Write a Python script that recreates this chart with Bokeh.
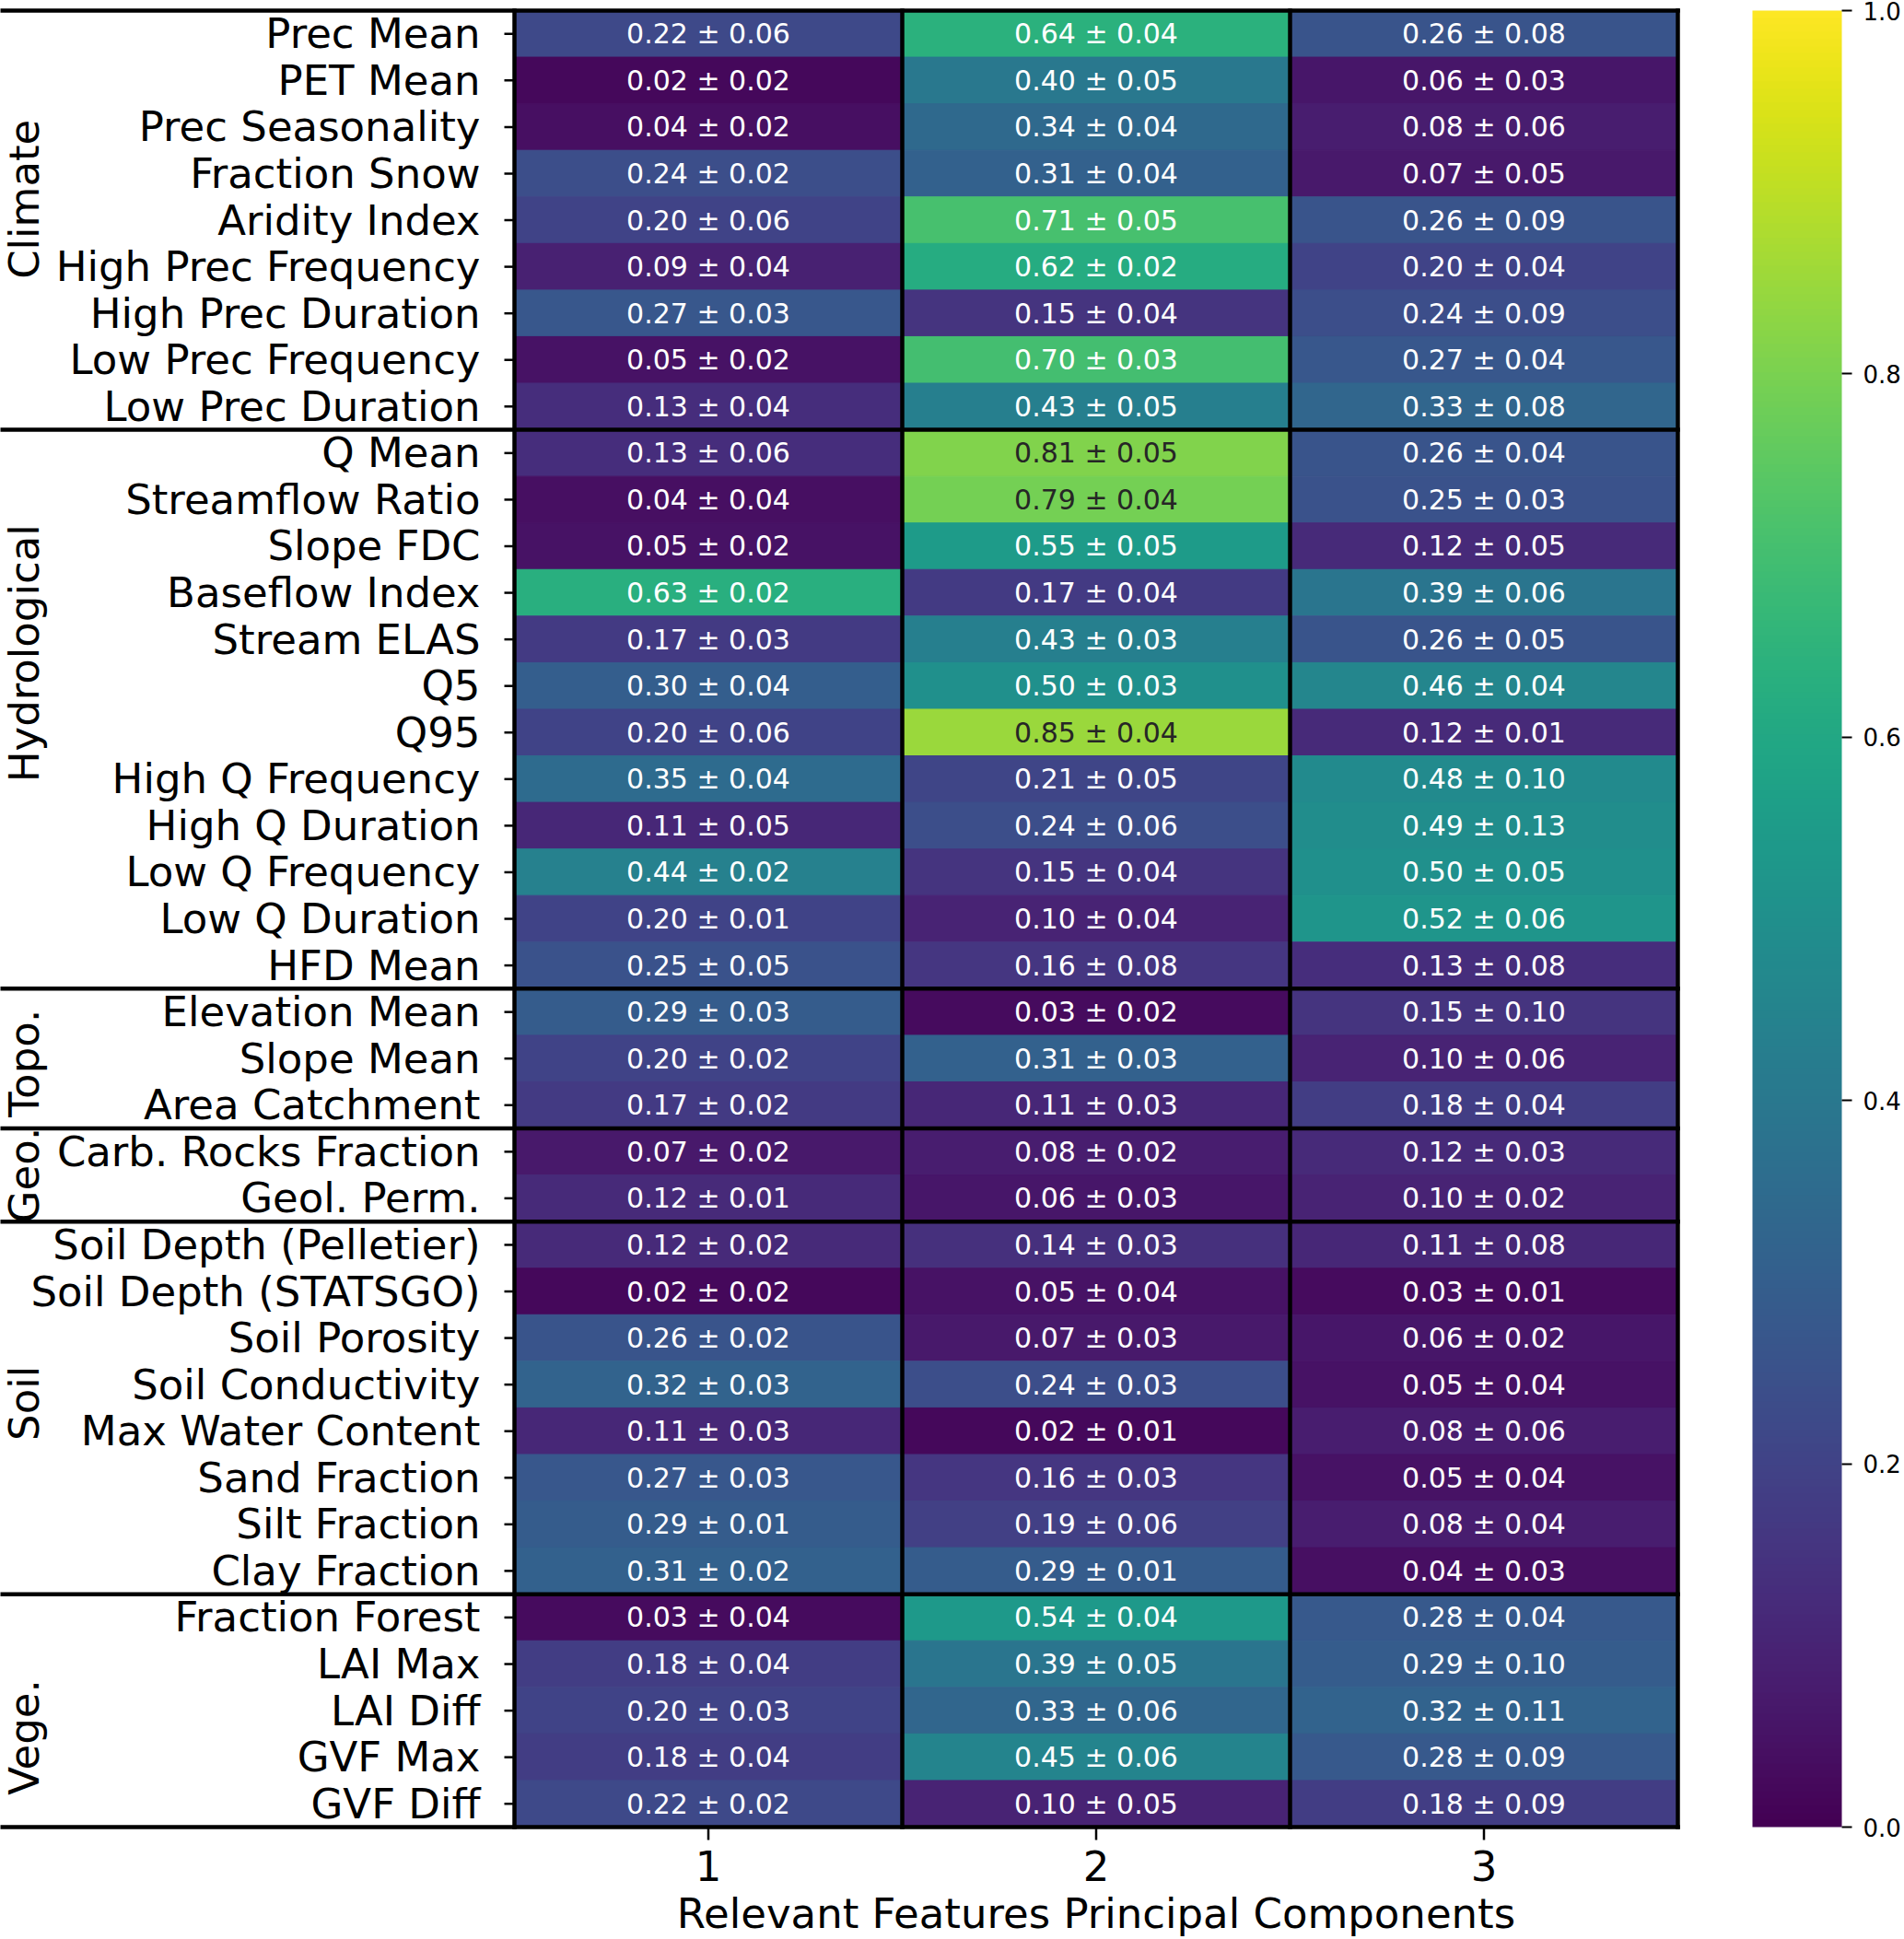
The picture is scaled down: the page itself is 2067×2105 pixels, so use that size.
import numpy as np
from bokeh.plotting import figure
from bokeh.models import (ColumnDataSource, LinearColorMapper, ColorBar, FixedTicker,
                          PrintfTickFormatter, Range1d)
from bokeh.palettes import Viridis256
from bokeh.transform import transform
from bokeh.core.properties import value
from bokeh.embed import file_html
from bokeh.resources import INLINE

# ---------------- data ----------------
groups = ["Climate", "Hydrological", "Topo.", "Geo.", "Soil", "Vege."]
group_sizes = [9, 12, 3, 2, 8, 5]

features = [
    "Prec Mean", "PET Mean", "Prec Seasonality", "Fraction Snow", "Aridity Index",
    "High Prec Frequency", "High Prec Duration", "Low Prec Frequency", "Low Prec Duration",
    "Q Mean", "Streamflow Ratio", "Slope FDC", "Baseflow Index", "Stream ELAS", "Q5", "Q95",
    "High Q Frequency", "High Q Duration", "Low Q Frequency", "Low Q Duration", "HFD Mean",
    "Elevation Mean", "Slope Mean", "Area Catchment",
    "Carb. Rocks Fraction", "Geol. Perm.",
    "Soil Depth (Pelletier)", "Soil Depth (STATSGO)", "Soil Porosity", "Soil Conductivity",
    "Max Water Content", "Sand Fraction", "Silt Fraction", "Clay Fraction",
    "Fraction Forest", "LAI Max", "LAI Diff", "GVF Max", "GVF Diff",
]

components = [1, 2, 3]

pc1_mean = [0.22, 0.02, 0.04, 0.24, 0.20, 0.09, 0.27, 0.05, 0.13,
            0.13, 0.04, 0.05, 0.63, 0.17, 0.30, 0.20, 0.35, 0.11, 0.44, 0.20, 0.25,
            0.29, 0.20, 0.17,
            0.07, 0.12,
            0.12, 0.02, 0.26, 0.32, 0.11, 0.27, 0.29, 0.31,
            0.03, 0.18, 0.20, 0.18, 0.22]
pc1_std = [0.06, 0.02, 0.02, 0.02, 0.06, 0.04, 0.03, 0.02, 0.04,
           0.06, 0.04, 0.02, 0.02, 0.03, 0.04, 0.06, 0.04, 0.05, 0.02, 0.01, 0.05,
           0.03, 0.02, 0.02,
           0.02, 0.01,
           0.02, 0.02, 0.02, 0.03, 0.03, 0.03, 0.01, 0.02,
           0.04, 0.04, 0.03, 0.04, 0.02]

pc2_mean = [0.64, 0.40, 0.34, 0.31, 0.71, 0.62, 0.15, 0.70, 0.43,
            0.81, 0.79, 0.55, 0.17, 0.43, 0.50, 0.85, 0.21, 0.24, 0.15, 0.10, 0.16,
            0.03, 0.31, 0.11,
            0.08, 0.06,
            0.14, 0.05, 0.07, 0.24, 0.02, 0.16, 0.19, 0.29,
            0.54, 0.39, 0.33, 0.45, 0.10]
pc2_std = [0.04, 0.05, 0.04, 0.04, 0.05, 0.02, 0.04, 0.03, 0.05,
           0.05, 0.04, 0.05, 0.04, 0.03, 0.03, 0.04, 0.05, 0.06, 0.04, 0.04, 0.08,
           0.02, 0.03, 0.03,
           0.02, 0.03,
           0.03, 0.04, 0.03, 0.03, 0.01, 0.03, 0.06, 0.01,
           0.04, 0.05, 0.06, 0.06, 0.05]

pc3_mean = [0.26, 0.06, 0.08, 0.07, 0.26, 0.20, 0.24, 0.27, 0.33,
            0.26, 0.25, 0.12, 0.39, 0.26, 0.46, 0.12, 0.48, 0.49, 0.50, 0.52, 0.13,
            0.15, 0.10, 0.18,
            0.12, 0.10,
            0.11, 0.03, 0.06, 0.05, 0.08, 0.05, 0.08, 0.04,
            0.28, 0.29, 0.32, 0.28, 0.18]
pc3_std = [0.08, 0.03, 0.06, 0.05, 0.09, 0.04, 0.09, 0.04, 0.08,
           0.04, 0.03, 0.05, 0.06, 0.05, 0.04, 0.01, 0.10, 0.13, 0.05, 0.06, 0.08,
           0.10, 0.06, 0.04,
           0.03, 0.02,
           0.08, 0.01, 0.02, 0.04, 0.06, 0.04, 0.04, 0.03,
           0.04, 0.10, 0.11, 0.09, 0.09]

x_label = "Relevant Features Principal Components"
cbar_ticks = [0.0, 0.2, 0.4, 0.6, 0.8, 1.0]

# ---------------- layout constants (pixels) ----------------
W, H = 2067, 2105
ROWS_TOP, ROWS_BOTTOM = 11, 1983        # pixel rows covered by the heatmap
N = len(features)
ROW_PX = (ROWS_BOTTOM - ROWS_TOP) / N
LABEL_W = 558                           # width of the label area left of the heatmap
COL_PX = 421
x_start = 0.5 - LABEL_W / COL_PX
x_end = x_start + W / COL_PX
y_end = N + ROWS_TOP / ROW_PX
y_start = -(H - ROWS_BOTTOM) / ROW_PX
FONT = "DejaVu Sans"


def px_x(px):
    return x_start + px / COL_PX


def px_below(px):
    return -px / ROW_PX


# ---------------- build sources ----------------
means = [pc1_mean, pc2_mean, pc3_mean]
stds = [pc1_std, pc2_std, pc3_std]


def rel_lum(hexc):
    c = [int(hexc[i:i + 2], 16) / 255 for i in (1, 3, 5)]
    lin = [v / 12.92 if v <= 0.03928 else ((v + 0.055) / 1.055) ** 2.4 for v in c]
    return 0.2126 * lin[0] + 0.7152 * lin[1] + 0.0722 * lin[2]


xs, ys, vs, labels, tcols = [], [], [], [], []
for j, comp in enumerate(components):
    for i in range(N):
        m, s = means[j][i], stds[j][i]
        xs.append(comp)
        ys.append(N - i - 0.5)
        vs.append(m)
        labels.append(f"{m:.2f} \u00b1 {s:.2f}")
        col = Viridis256[min(255, int(m * 256))]
        tcols.append("#262626" if rel_lum(col) > 0.408 else "white")

src = ColumnDataSource(dict(x=xs, y=ys, v=vs, label=labels, tc=tcols))
mapper = LinearColorMapper(palette=Viridis256, low=0, high=1)

p = figure(width=W, height=H, x_range=Range1d(x_start, x_end),
           y_range=Range1d(y_start, y_end), output_backend="svg",
           toolbar_location=None, x_axis_location=None, y_axis_location=None,
           min_border=0, min_border_left=0, min_border_right=0,
           min_border_top=0, min_border_bottom=0)
p.grid.visible = False
p.outline_line_color = None
p.background_fill_color = "white"
p.border_fill_color = "white"

p.rect(x="x", y="y", width=1, height=1, source=src,
       fill_color=transform("v", mapper), line_color=transform("v", mapper), line_width=1)
p.text(x="x", y="y", text="label", text_color="tc", source=src,
       text_font=value(FONT), text_font_size="30px",
       text_align="center", text_baseline="middle")

# row labels and ticks
row_y = [N - i - 0.5 for i in range(N)]
lab_x = 0.5 - 37 / COL_PX
p.text(x=[lab_x] * N, y=row_y, text=features, text_color="black",
       text_font=value(FONT), text_font_size="45px",
       text_align="right", text_baseline="middle")
p.segment(x0=[0.5 - 11 / COL_PX] * N, y0=row_y, x1=[0.5] * N, y1=row_y,
          line_color="black", line_width=2.5)

# group separators
bounds = [N]
for g in group_sizes:
    bounds.append(bounds[-1] - g)
p.segment(x0=[x_start] * len(bounds), y0=bounds, x1=[3.5] * len(bounds), y1=bounds,
          line_color="black", line_width=4.5, line_cap="square")
vlines = [0.5, 1.5, 2.5, 3.5]
p.segment(x0=vlines, y0=[0] * 4, x1=vlines, y1=[N] * 4,
          line_color="black", line_width=4.5, line_cap="square")

# group labels (rotated)
label_shift = [-0.45, -1.2, 0.1, 0.0, -0.1, 0.57]  # rows, downward positive
g_y = []
for k, g in enumerate(group_sizes):
    top = bounds[k]
    g_y.append(top - g / 2 - label_shift[k])
p.text(x=[px_x(26)] * len(groups), y=g_y, text=groups, angle=np.pi / 2,
       text_color="black", text_font=value(FONT), text_font_size="45px",
       text_align="center", text_baseline="middle")

# x ticks, tick labels and axis title (below the heatmap)
p.segment(x0=components, y0=[0] * 3, x1=components, y1=[px_below(14)] * 3,
          line_color="black", line_width=2.5)
p.text(x=components, y=[px_below(42)] * 3, text=[str(c) for c in components],
       text_color="black", text_font=value(FONT), text_font_size="45px",
       text_align="center", text_baseline="middle")
p.text(x=[2], y=[px_below(94)], text=[x_label],
       text_color="black", text_font=value(FONT), text_font_size="45px",
       text_align="center", text_baseline="middle")

# colour bar
cb = ColorBar(color_mapper=mapper, location=(1902, H - ROWS_BOTTOM), width=97,
              height=int(round(N * ROW_PX)), padding=0, margin=0,
              ticker=FixedTicker(ticks=cbar_ticks),
              formatter=PrintfTickFormatter(format="%.1f"),
              major_label_text_font=FONT, major_label_text_font_size="26px",
              major_label_text_color="black",
              major_tick_out=11, major_tick_in=0, major_tick_line_color="black",
              major_tick_line_width=2, minor_tick_line_color=None,
              bar_line_color=None, border_line_color=None,
              background_fill_alpha=0, label_standoff=12)
p.add_layout(cb)

open("out.html", "w").write(file_html(p, INLINE))
